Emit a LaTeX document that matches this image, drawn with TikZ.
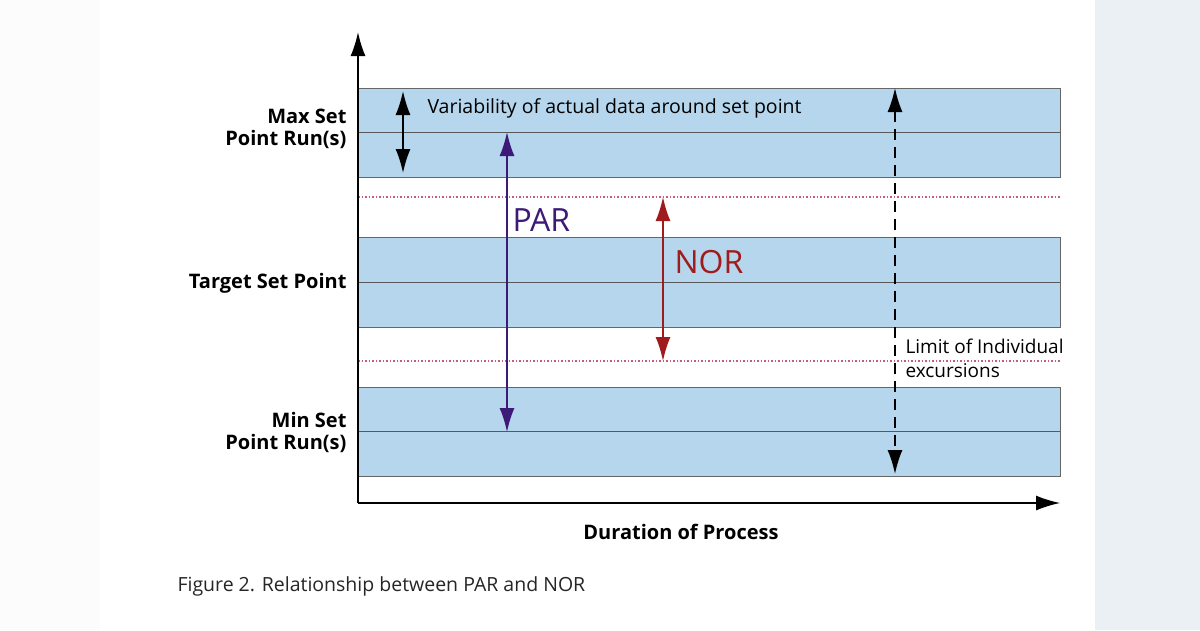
\documentclass[tikz,border=0pt]{standalone}
\usepackage{fontspec}
\setmainfont{Open Sans}
\usetikzlibrary{arrows.meta}
\definecolor{band}{HTML}{B5D6EC}
\definecolor{par}{HTML}{3D1A78}
\definecolor{nor}{HTML}{A01C1C}
\definecolor{dotc}{HTML}{C85A7A}
\definecolor{rightbg}{HTML}{EBF0F5}
\begin{document}
\begin{tikzpicture}[x=1pt,y=-1pt,
  bandbox/.style={fill=band,draw=black!60,line width=0.8pt},
  midline/.style={draw=black!65,line width=1pt},
  lim/.style={draw=dotc,line width=1.5pt,dotted},
  dbl/.style={{Latex[length=24pt,width=15pt]}-{Latex[length=24pt,width=15pt]},line width=1.6pt},
  lab/.style={font=\bfseries\fontsize{20}{22}\selectfont,align=right,anchor=east},
  txt/.style={font=\fontsize{19.5}{23}\selectfont}]
\useasboundingbox (0,0) rectangle (1200,630);
\fill[white!99!black] (0,0) rectangle (100,630);
\fill[white] (100,0) rectangle (1095,630);
\fill[rightbg] (1095,0) rectangle (1200,630);
% bands
\foreach \t/\m/\b in {88/132/177,237/282/327,387/431/476}{
  \path[bandbox] (358,\t) rectangle (1060,\b);
  \draw[midline] (358,\m) -- (1060,\m);
}
\draw[lim] (358,197) -- (1060,197);
\draw[lim] (358,361) -- (1060,361);
% axes
\coordinate (o) at (358,503);
\coordinate (ytop) at (358,32);
\coordinate (xend) at (1060,503);
\draw[line width=1.8pt,-{Latex[length=24pt,width=15pt]}] (o) -- (ytop);
\draw[line width=1.3pt,-{Latex[length=24pt,width=15pt]}] (o) -- (xend);
% arrows
\coordinate (v1) at (403,91); \coordinate (v2) at (403,173);
\draw[dbl] (v1) -- (v2);
\coordinate (p1) at (507,132); \coordinate (p2) at (507,432);
\draw[dbl,par] (p1) -- (p2);
\coordinate (n1) at (663,197); \coordinate (n2) at (663,361);
\draw[dbl,nor] (n1) -- (n2);
\coordinate (d1) at (895,88); \coordinate (d2) at (895,474);
\draw[dbl,dash pattern=on 11pt off 7pt] (d1) -- (d2);
% texts
\node[txt,anchor=west] (var) at (424,108) {Variability of actual data around set point};
\node[anchor=west,text=par,font=\fontsize{32}{36}\selectfont] (partxt) at (509,220) {PAR};
\node[anchor=west,text=nor,font=\fontsize{32}{36}\selectfont] (nortxt) at (671,262) {NOR};
\node[anchor=north west,align=left,font=\fontsize{19}{24}\selectfont] (limit) at (902,335) {Limit of Individual\\excursions};
\node[lab] (maxl) at (350,129) {Max Set\\Point Run(s)};
\node[lab] (tgt) at (350,283) {Target Set Point};
\node[lab] (minl) at (350,432) {Min Set\\Point Run(s)};
\node[font=\bfseries\fontsize{20}{22}\selectfont] (dur) at (681,532) {Duration of Process};
\node[anchor=west,font=\fontsize{19.5}{22}\selectfont,text=black!85] (cap) at (174,586) {Figure 2. Relationship between PAR and NOR};
\end{tikzpicture}
\end{document}
